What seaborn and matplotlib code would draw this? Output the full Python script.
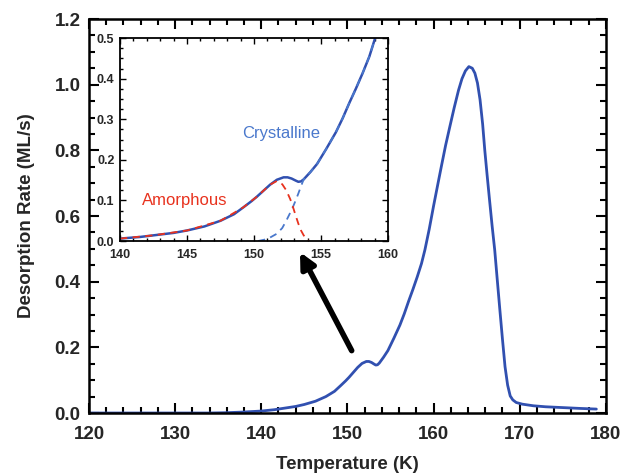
import matplotlib
matplotlib.use("Agg")
import matplotlib.pyplot as plt
from matplotlib.ticker import MultipleLocator, FormatStrFormatter
import seaborn as sns
import pandas as pd

# ---- data ----
temp_total = [120, 130, 134, 136, 138, 140, 141.5, 142.5, 144, 145, 146.3, 147.5, 148.5, 149.2,
              149.8, 150.2, 150.7, 151.2, 151.7, 152.2, 152.5, 152.8, 153.1, 153.3, 153.5, 153.7,
              154.2, 154.7, 155.4, 156.1, 156.6, 157.1, 157.6, 158.1, 158.6, 159.0, 159.5, 160.0,
              160.5, 160.9, 161.4, 161.9, 162.4, 162.9, 163.3, 163.7, 164.1, 164.5, 164.8, 165.1,
              165.4, 165.7, 165.95, 166.2, 166.5, 166.8, 167.1, 167.4, 167.7, 168.0, 168.3, 168.6,
              168.9, 169.2, 169.6, 170.3, 171.6, 173, 175.4, 177, 178.9]
rate_total = [0, 0, 0, 0.001, 0.003, 0.006, 0.010, 0.014, 0.020, 0.026, 0.036, 0.050, 0.066, 0.083,
              0.098, 0.109, 0.124, 0.139, 0.151, 0.157, 0.157, 0.154, 0.149, 0.146, 0.147, 0.152,
              0.170, 0.190, 0.228, 0.268, 0.302, 0.340, 0.376, 0.414, 0.455, 0.497, 0.560, 0.630,
              0.697, 0.750, 0.815, 0.873, 0.930, 0.983, 1.018, 1.042, 1.055, 1.050, 1.035, 1.005,
              0.954, 0.880, 0.800, 0.730, 0.649, 0.570, 0.497, 0.405, 0.314, 0.225, 0.141, 0.085,
              0.052, 0.040, 0.032, 0.027, 0.022, 0.019, 0.016, 0.014, 0.012]

temp_amorph = [140, 142.5, 145, 147.5, 149.2, 150.2, 151.2, 151.7, 152.1, 152.4, 152.7, 152.9,
               153.1, 153.3, 153.5, 153.7, 153.9, 154.1]
rate_amorph = [0.006, 0.014, 0.026, 0.050, 0.083, 0.109, 0.139, 0.148, 0.140, 0.125, 0.103, 0.084,
               0.063, 0.043, 0.026, 0.014, 0.005, 0.0]

temp_cryst = [150.3, 151.0, 151.7, 152.1, 152.4, 152.7, 152.9, 153.1, 153.3, 153.5, 153.7,
              154.2, 154.7, 155.4, 156.1, 156.6, 157.1, 157.6, 158.1, 158.6, 159.0, 159.5]
rate_cryst = [0.0, 0.005, 0.018, 0.032, 0.050, 0.070, 0.084, 0.100, 0.117, 0.135, 0.152,
              0.170, 0.190, 0.228, 0.268, 0.302, 0.340, 0.376, 0.414, 0.455, 0.497, 0.560]

main_xticks = [120, 130, 140, 150, 160, 170, 180]
main_yticks = [0.0, 0.2, 0.4, 0.6, 0.8, 1.0, 1.2]
inset_xticks = [140, 145, 150, 155, 160]
inset_yticks = [0.0, 0.1, 0.2, 0.3, 0.4, 0.5]

# ---- style ----
sns.set_style("ticks")
plt.rcParams["font.family"] = ["Liberation Sans", "DejaVu Sans"]

c_main = "#3150b0"
c_cryst = "#4a78cc"
c_amorph = "#e8321e"

df_total = pd.DataFrame({"T": temp_total, "R": rate_total})
df_am = pd.DataFrame({"T": temp_amorph, "R": rate_amorph})
df_cr = pd.DataFrame({"T": temp_cryst, "R": rate_cryst})

fig = plt.figure(figsize=(6.22, 4.75), dpi=100)
ax = fig.add_axes([0.143, 0.1305, 0.831, 0.8295])

sns.lineplot(data=df_total, x="T", y="R", ax=ax, color=c_main, lw=2.0, sort=False)
ax.set_xlim(120, 180)
ax.set_ylim(0, 1.2)
ax.set_xticks(main_xticks)
ax.set_yticks(main_yticks)
ax.xaxis.set_minor_locator(MultipleLocator(2))
ax.yaxis.set_minor_locator(MultipleLocator(0.05))
ax.yaxis.set_major_formatter(FormatStrFormatter("%.1f"))
ax.tick_params(which="both", direction="in", top=True, right=True, width=1.5, color="black")
ax.tick_params(which="major", length=7, labelsize=13.5)
ax.tick_params(axis="x", which="major", pad=9)
ax.tick_params(axis="y", which="major", pad=6)
ax.tick_params(which="minor", length=4)
for lab in ax.get_xticklabels() + ax.get_yticklabels():
    lab.set_fontweight("bold")
for s in ax.spines.values():
    s.set_linewidth(1.8)
    s.set_color("black")
ax.set_xlabel("Temperature (K)", fontsize=13.5, fontweight="bold", labelpad=10)
ax.set_ylabel("Desorption Rate (ML/s)", fontsize=13.5, fontweight="bold", labelpad=14)

# arrow
ax.annotate("", xy=(144.5, 0.49), xytext=(150.5, 0.19),
            arrowprops=dict(arrowstyle="-|>,head_length=0.9,head_width=0.45",
                            lw=4, color="black", shrinkA=0, shrinkB=0), zorder=5)

# inset
axi = fig.add_axes([0.193, 0.4926, 0.431, 0.427])
sns.lineplot(data=df_total, x="T", y="R", ax=axi, color=c_main, lw=1.8, sort=False)
sns.lineplot(data=df_cr, x="T", y="R", ax=axi, color=c_cryst, lw=1.3, sort=False,
             linestyle=(0, (4, 3)))
sns.lineplot(data=df_am, x="T", y="R", ax=axi, color=c_amorph, lw=1.3, sort=False,
             linestyle=(0, (4, 3)))
axi.set_xlim(140, 160)
axi.set_ylim(0, 0.5)
axi.set_xticks(inset_xticks)
axi.set_yticks(inset_yticks)
axi.xaxis.set_minor_locator(MultipleLocator(1))
axi.yaxis.set_minor_locator(MultipleLocator(0.025))
axi.yaxis.set_major_formatter(FormatStrFormatter("%.1f"))
axi.tick_params(which="both", direction="in", top=True, right=True, width=1.0, color="black")
axi.tick_params(which="major", length=4, labelsize=9)
axi.tick_params(axis="x", which="major", pad=6)
axi.tick_params(axis="y", which="major", pad=4)
axi.tick_params(which="minor", length=2.5)
for lab in axi.get_xticklabels() + axi.get_yticklabels():
    lab.set_fontweight("bold")
for s in axi.spines.values():
    s.set_linewidth(1.3)
    s.set_color("black")
axi.set_xlabel("")
axi.set_ylabel("")
axi.text(152.0, 0.266, "Crystalline", color=c_cryst, fontsize=12, ha="center", va="center")
axi.text(144.8, 0.10, "Amorphous", color=c_amorph, fontsize=12, ha="center", va="center")

fig.savefig("out.png", dpi=100)
